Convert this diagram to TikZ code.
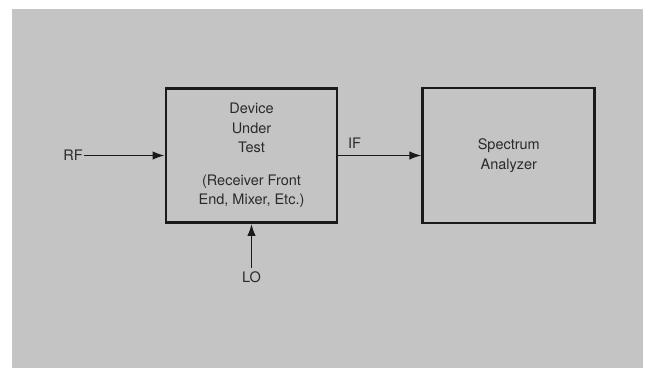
\documentclass[tikz,border=0pt]{standalone}
\usepackage{fontspec}
\setmainfont{TeX Gyre Heros}
\usepackage{xcolor}
\usetikzlibrary{positioning,arrows.meta}
\definecolor{PanelGray}{HTML}{C4C4C4}
\definecolor{InkBlack}{HTML}{1A1A1A}
\definecolor{TextGray}{HTML}{2A2A2A}

\begin{document}
\begin{tikzpicture}[x=1pt,y=-1pt,node distance=83pt,
    font=\fontsize{14.5}{19.5}\selectfont,text=TextGray]
        \fill[white] (0,0) rectangle (649,368);
        \fill[PanelGray] (12,9) rectangle (643,368);
        \node[draw=InkBlack,line width=2.8pt,align=center,minimum width=171pt,minimum height=134pt] (dut) at (251.5,155.5) {Device\\Under\\Test\\[13pt](Receiver Front\\End, Mixer, Etc.)};
        \node[draw=InkBlack,line width=2.8pt,align=center,minimum width=172pt,minimum height=135pt,right=of dut] (sa) {Spectrum\\Analyzer};
        \node[anchor=east,inner sep=1pt] (rf) at (84,155.5) {RF};
        \node (lo) at (251.5,277) {LO};
        \node (iflabel) at (354.5,143) {IF};
        \draw[-{Latex[length=12pt,width=8.5pt]},InkBlack,line width=1.5pt] (rf.east) -- (dut.west);
        \draw[-{Latex[length=12pt,width=8.5pt]},InkBlack,line width=1.5pt] (dut.east) -- (sa.west);
        \draw[-{Latex[length=12pt,width=8.5pt]},InkBlack,line width=1.5pt] (lo.north) -- (dut.south);
      \end{tikzpicture}
\end{document}
